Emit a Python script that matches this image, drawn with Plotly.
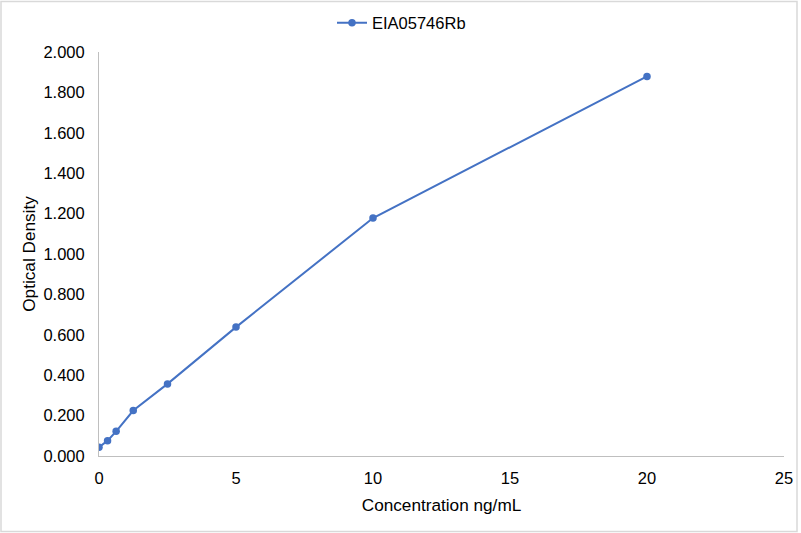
import plotly.graph_objects as go

concentration = [0, 0.3125, 0.625, 1.25, 2.5, 5, 10, 20]
optical_density = [0.043, 0.076, 0.122, 0.225, 0.357, 0.638, 1.178, 1.879]
series_name = "EIA05746Rb"
y_ticks = [0, 0.2, 0.4, 0.6, 0.8, 1.0, 1.2, 1.4, 1.6, 1.8, 2.0]
x_ticks = [0, 5, 10, 15, 20, 25]

W, H = 801, 533
L, R, T, B = 99, 17, 52, 77
pw, ph = W - L - R, H - T - B

fig = go.Figure()
fig.add_trace(go.Scatter(
    x=concentration, y=optical_density, name=series_name,
    mode="lines+markers",
    line=dict(color="#4472C4", width=2),
    marker=dict(color="#4472C4", size=7.5),
))

font = dict(family="Liberation Sans, Arial, sans-serif", size=16.5, color="#000000")
lfont = dict(family="Liberation Sans, Arial, sans-serif", size=16.5, color="#000000")
tfont = dict(family="Liberation Sans, Arial, sans-serif", size=17.2, color="#000000")

fig.update_layout(
    width=W, height=H,
    margin=dict(l=L, r=R, t=T, b=B, autoexpand=False),
    paper_bgcolor="white", plot_bgcolor="white",
    font=font,
    showlegend=True,
    legend=dict(orientation="h", x=0.5 - 40 / pw, xanchor="center", y=1 + 29 / ph, yanchor="middle",
                font=lfont, bgcolor="rgba(0,0,0,0)"),
    xaxis=dict(range=[0, 25], tickvals=x_ticks, showgrid=False, zeroline=False,
               showline=True, linecolor="#BFBFBF", linewidth=1, ticks="",
               ticklabelstandoff=7,
               title=dict(text="Concentration ng/mL", font=tfont, standoff=13)),
    yaxis=dict(range=[0, 2.0], tickvals=y_ticks, tickformat=".3f", showgrid=False,
               zeroline=False, showline=True, linecolor="#BFBFBF", linewidth=1, ticks="",
               ticklabelstandoff=10,
               title=dict(text="Optical Density", font=tfont, standoff=3)),
    shapes=[dict(type="rect", xref="paper", yref="paper",
                 x0=(1 - L) / pw, x1=(W - 4 - L) / pw,
                 y0=-(B - 1.5) / ph,
                 y1=1 + (T - 1.5) / ph,
                 line=dict(color="#D9D9D9", width=1.5), layer="below")],
)

fig.write_html("out.html", config={"displayModeBar": False},
               post_script="document.body.style.margin='0';")
